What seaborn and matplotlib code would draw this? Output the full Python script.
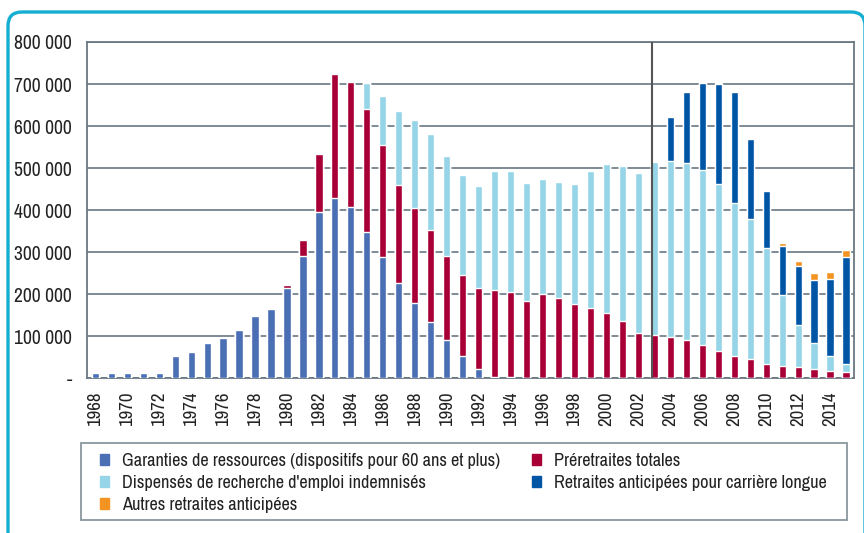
import matplotlib
matplotlib.use("Agg")
import matplotlib.pyplot as plt
import matplotlib.patches as mpatches
import matplotlib.transforms as mtransforms
from matplotlib import font_manager as fm
import seaborn as sns
import numpy as np
import pandas as pd

# Years 1968 -> 2015
annees = list(range(1968, 2016))

# Stock of beneficiaries by scheme
garanties = [13000, 13000, 13000, 13000, 13000,
             53000, 63000, 85000, 97000, 115000,
             149000, 164000, 214000, 290000, 395000,
             430000, 407000, 347000, 288000, 226000,
             180000, 135000, 92000, 52000, 21000,
             4000, 4000, 1500, 0, 0,
             0, 0, 0, 0, 0,
             0, 0, 0, 0, 0,
             0, 0, 0, 0, 0,
             0, 0, 0]
preretraites = [0, 0, 0, 0, 0,
                0, 0, 0, 0, 0,
                0, 2000, 9000, 38000, 138000,
                293000, 298000, 293000, 266000, 235000,
                224000, 217000, 200000, 193000, 193000,
                206000, 201000, 182000, 200000, 191000,
                176000, 167000, 155000, 136000, 107000,
                102000, 99000, 92000, 80000, 66000,
                54000, 45000, 35000, 30000, 28000,
                23000, 18000, 16000]
dispenses = [0, 0, 0, 0, 0,
             0, 0, 0, 0, 0,
             0, 0, 0, 0, 0,
             0, 0, 62000, 117000, 174000,
             210000, 229000, 236000, 239000, 243000,
             282000, 289000, 280000, 273000, 277000,
             287000, 327000, 354000, 368000, 382000,
             413000, 418000, 420000, 416000, 396000,
             363000, 334000, 275000, 167000, 98000,
             60000, 34000, 17000]
carriere_longue = [0, 0, 0, 0, 0,
                   0, 0, 0, 0, 0,
                   0, 0, 0, 0, 0,
                   0, 0, 0, 0, 0,
                   0, 0, 0, 0, 0,
                   0, 0, 0, 0, 0,
                   0, 0, 0, 0, 0,
                   0, 105000, 170000, 207000, 239000,
                   265000, 191000, 136000, 117000, 141000,
                   150000, 184000, 255000]
autres = [0, 0, 0, 0, 0,
          0, 0, 0, 0, 0,
          0, 0, 0, 0, 0,
          0, 0, 0, 0, 0,
          0, 0, 0, 0, 0,
          0, 0, 0, 0, 0,
          0, 0, 0, 0, 0,
          0, 0, 0, 2500, 2000,
          2000, 2500, 2500, 7000, 12000,
          17000, 17000, 17000]

series = ["Garanties de ressources (dispositifs pour 60 ans et plus)",
          "Préretraites totales",
          "Dispensés de recherche d'emploi indemnisés",
          "Retraites anticipées pour carrière longue",
          "Autres retraites anticipées"]
couleurs = ["#4a6fb5", "#a80036", "#96d5e8", "#0055a5", "#f39322"]

df = pd.DataFrame({"annee": annees,
                   series[0]: garanties,
                   series[1]: preretraites,
                   series[2]: dispenses,
                   series[3]: carriere_longue,
                   series[4]: autres})
cum = df[series].cumsum(axis=1)
cum["annee"] = df["annee"]

sns.set_style("white")
plt.rcParams["font.family"] = ["Liberation Sans", "DejaVu Sans"]


# pick the narrowest regular sans available (original uses a condensed face)
def pick_font():
    best = None
    rank = {"ultra-condensed": 0, "extra-condensed": 0, "condensed": 1, "semi-condensed": 3}
    for f in fm.fontManager.ttflist:
        if f.style != "normal" or f.weight not in (400, "normal", "regular"):
            continue
        n = (f.name + " " + f.fname).lower()
        if "mono" in n or "serif" in n and "sans" not in n:
            continue
        r = rank.get(f.stretch, 9)
        if "narrow" in n:
            r = 0
        elif "semicondensed" in n or "semi condensed" in n:
            r = min(r, 3)
        elif "condensed" in n:
            r = min(r, 1)
        if r < 9 and (best is None or r < best[0]):
            best = (r, f.fname)
    if best is None:
        return fm.FontProperties(family="Liberation Sans")
    return fm.FontProperties(fname=best[1])


base_fp = pick_font()

fig = plt.figure(figsize=(8.64, 5.33), dpi=100)
renderer = fig.canvas.get_renderer()


def fit(text, target_px):
    # font size giving the wanted text width in pixels
    t = fig.text(0, 0, text, fontproperties=base_fp, fontsize=10)
    bb = t.get_window_extent(renderer)
    t.remove()
    return 10 * target_px / bb.width


fs_y = fit("800 000", 57)
fs_x = fit("1968", 34)
fs_leg = fit(series[0], 380)
fp_y = base_fp.copy(); fp_y.set_size(fs_y)
fp_x = base_fp.copy(); fp_x.set_size(fs_x)
fp_leg = base_fp.copy(); fp_leg.set_size(fs_leg)

ax = fig.add_axes([87.3 / 864, 1 - 378.3 / 533, 766.7 / 864, 336.3 / 533])

# stacked bars: draw cumulative totals from top layer down
for name, col in reversed(list(zip(series, couleurs))):
    sns.barplot(data=cum, x="annee", y=name, color=col, saturation=1,
                width=0.45, errorbar=None, ax=ax, zorder=3)

ax.set_xlim(-0.5, len(annees) - 0.5)
ax.set_ylim(0, 800000)
ax.set_xlabel("")
ax.set_ylabel("")

yt = np.arange(0, 800001, 100000)
ax.set_yticks(yt)
ax.set_yticklabels(["-" if v == 0 else f"{v // 1000} 000" for v in yt])
ax.yaxis.grid(True, color="#74828c", linewidth=1.3, linestyle="-", zorder=0)
ax.set_axisbelow(True)

ax.set_xticks(range(0, len(annees), 2))
ax.set_xticklabels([str(a) for a in annees[::2]], rotation=90)
ax.set_xticks(np.arange(-0.5, len(annees), 1), minor=True)
ax.tick_params(axis="x", which="major", length=0, pad=9.5, labelcolor="#222222")
ax.tick_params(axis="x", which="minor", length=4, width=1, color="#74828c", direction="out")
ax.tick_params(axis="y", which="major", length=4, width=1, color="#74828c", pad=7,
               labelcolor="#222222")
for lbl in ax.get_xticklabels():
    lbl.set_fontproperties(fp_x)
for lbl in ax.get_yticklabels():
    lbl.set_fontproperties(fp_y)

for s in ax.spines.values():
    s.set_visible(True)
    s.set_color("#6a7882")
    s.set_linewidth(1.3)

# separation line (2003)
ax.axvline(34.875, color="#555555", linewidth=1.5, zorder=5)

# legend box
fig.add_artist(mpatches.Rectangle((81, 533 - 519.5), 766, 76.5, transform=mtransforms.IdentityTransform(),
                                  facecolor="white", edgecolor="#8a969e", linewidth=1.3))

# legend text metrics -> spacing
t = fig.text(0, 0, series[0], fontproperties=fp_leg)
h_txt = t.get_window_extent(renderer).height
t.remove()
fs_px = fs_leg * 100 / 72
leg_kw = dict(loc="upper left", frameon=False, prop=fp_leg,
              handlelength=9 / fs_px, handleheight=9 / fs_px,
              handletextpad=13 / fs_px, labelspacing=(22 - h_txt) / fs_px,
              borderaxespad=0, borderpad=0)
top = 1 - (461 - h_txt / 2) / 533

col1 = [0, 2, 4]
col2 = [1, 3]
leg1 = fig.legend([mpatches.Patch(color=couleurs[i]) for i in col1], [series[i] for i in col1],
                  bbox_to_anchor=(100 / 864, top), **leg_kw)
leg2 = fig.legend([mpatches.Patch(color=couleurs[i]) for i in col2], [series[i] for i in col2],
                  bbox_to_anchor=(532 / 864, top), **leg_kw)
for lg in (leg1, leg2):
    for tx in lg.get_texts():
        tx.set_color("#222222")

# rounded cyan frame around the figure
fig.add_artist(mpatches.FancyBboxPatch((8, -20), 857, 541, boxstyle="round,pad=0,rounding_size=14",
                                       transform=mtransforms.IdentityTransform(),
                                       facecolor="none", edgecolor="#14aed2", linewidth=2.4))

fig.savefig("out.png", dpi=100)
